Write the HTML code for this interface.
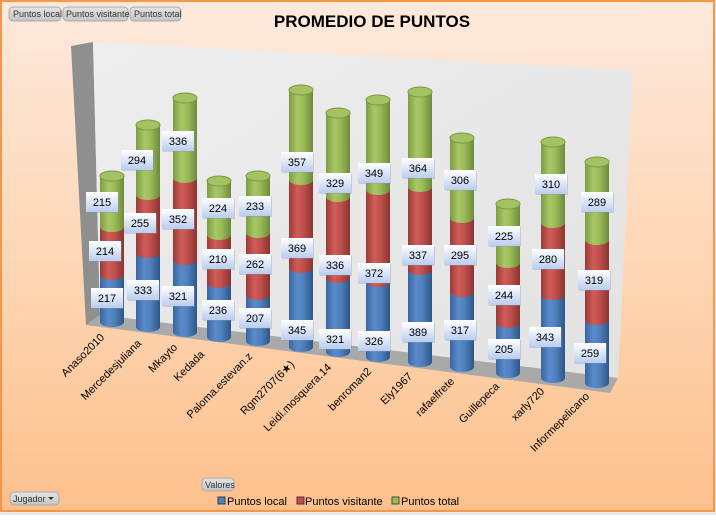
<!DOCTYPE html>
<html><head><meta charset="utf-8"><style>
body{margin:0;width:716px;height:515px;overflow:hidden;font-family:"Liberation Sans",sans-serif}
</style></head><body>
<svg width="716" height="515" xmlns="http://www.w3.org/2000/svg" font-family="Liberation Sans, sans-serif">
<defs>
<linearGradient id="bg" x1="0" y1="0" x2="0" y2="1"><stop offset="0" stop-color="#fde9dc"/><stop offset="0.5" stop-color="#fdd7b6"/><stop offset="1" stop-color="#fdc08c"/></linearGradient>
<linearGradient id="wall" x1="0" y1="0" x2="1" y2="1"><stop offset="0" stop-color="#eeeeee"/><stop offset="1" stop-color="#e2e2e2"/></linearGradient>
<linearGradient id="gb" x1="0" x2="1"><stop offset="0" stop-color="#3a65a0"/><stop offset="0.35" stop-color="#5a8bcb"/><stop offset="0.6" stop-color="#4f81bd"/><stop offset="1" stop-color="#2f5687"/></linearGradient>
<linearGradient id="gr" x1="0" x2="1"><stop offset="0" stop-color="#9c3a37"/><stop offset="0.35" stop-color="#d05c58"/><stop offset="0.6" stop-color="#c0504d"/><stop offset="1" stop-color="#8a3431"/></linearGradient>
<linearGradient id="gg" x1="0" x2="1"><stop offset="0" stop-color="#7d9c44"/><stop offset="0.35" stop-color="#a8c766"/><stop offset="0.6" stop-color="#9bbb59"/><stop offset="1" stop-color="#6d8a3a"/></linearGradient>
<linearGradient id="lb" x1="0" y1="0" x2="0" y2="1"><stop offset="0" stop-color="#ffffff"/><stop offset="1" stop-color="#b9cdef"/></linearGradient>
<linearGradient id="btn" x1="0" y1="0" x2="0" y2="1"><stop offset="0" stop-color="#e4e4e4"/><stop offset="1" stop-color="#c4c4c4"/></linearGradient>
</defs>
<rect x="0" y="0" width="716" height="515" fill="#e8e8e8"/>
<rect x="1" y="1" width="713" height="510" fill="url(#bg)" stroke="#f79646" stroke-width="2"/>
<!-- walls -->
<polygon points="71,46 93,42 100,315 86,325" fill="#8f8f8f"/>
<polygon points="93,42 633,70 618,378 100,315" fill="url(#wall)"/>
<polygon points="100,315 618,378 610,393 86,325" fill="#a9a9a9"/>
<text x="372" y="27" text-anchor="middle" font-size="17" font-weight="bold" fill="#000">PROMEDIO DE PUNTOS</text>
<g font-size="9" fill="#333">
<rect x="9" y="7" width="52" height="14" rx="4" fill="url(#btn)" stroke="#aaa"/><text x="13" y="17">Puntos local</text>
<rect x="63" y="7" width="65" height="14" rx="4" fill="url(#btn)" stroke="#aaa"/><text x="66" y="17">Puntos visitante</text>
<rect x="130" y="7" width="51" height="14" rx="4" fill="url(#btn)" stroke="#aaa"/><text x="134" y="17">Puntos total</text>
<rect x="202" y="478" width="32" height="13" rx="4" fill="url(#btn)" stroke="#aaa"/><text x="205" y="488">Valores</text>
<rect x="10" y="492" width="49" height="13" rx="4" fill="url(#btn)" stroke="#aaa"/><text x="13" y="502">Jugador</text>
<polygon points="48,497 54,497 51,500" fill="#333"/>
</g>
<g font-size="11" fill="#000">
<rect x="218" y="497" width="7" height="7" fill="#4f81bd" stroke="#345"/><text x="227" y="505">Puntos local</text>
<rect x="297" y="497" width="7" height="7" fill="#c0504d" stroke="#533"/><text x="305" y="505">Puntos visitante</text>
<rect x="392" y="497" width="7" height="7" fill="#9bbb59" stroke="#453"/><text x="401" y="505">Puntos total</text>
</g>
<g id="cyl"></g>
<g id="labs" font-size="11"></g>
<g id="xl" font-size="11" fill="#000"></g>
</svg>
<script>
var d=[
["Anaso2010",112,322,275,227,176,[217,107,298],[214,105,251],[215,102,202]],
["Mercedesjuliana",148,327,253,195,125,[333,143,290],[255,140,223],[294,137,160]],
["Mkayto",185,332,260,178,98,[321,178,296],[352,178,219],[336,178,141]],
["Kedada",219,337,283,235,181,[236,218,310],[210,218,259],[224,218,208]],
["Paloma.estevan.z",258,341,295,233,176,[207,255,318],[262,255,264],[233,255,206]],
["Rgm2707(6\u2605)",301,347,268,180,90,[345,297,330],[369,297,248],[357,297,162]],
["Leidi.mosquera.14",338,352,278,197,113,[321,335,339],[336,335,265],[329,335,183]],
["benroman2",378,357,282,190,100,[326,374,341],[372,374,273],[349,374,173]],
["Ely1967",420,362,270,187,92,[389,418,332],[337,418,255],[364,418,168]],
["rafaelfrete",462,367,292,218,138,[317,460,330],[295,460,255],[306,460,180]],
["Guillepeca",508,373,323,263,204,[205,504,349],[244,504,295],[225,504,236]],
["xarly720",553,378,295,223,142,[343,545,337],[280,548,259],[310,551,184]],
["Informepelicano",597,383,320,240,162,[259,590,353],[319,594,280],[289,597,202]]];
var ends=[[105,338],[142,344],[178,348],[205,355],[253,357],[295,365],[332,368],[372,372],[413,377],[455,382],[500,387],[545,392],[590,397]];
var NS="http://www.w3.org/2000/svg",c=document.getElementById("cyl"),L=document.getElementById("labs"),X=document.getElementById("xl");
function el(p,t,a){var e=document.createElementNS(NS,t);for(var k in a)e.setAttribute(k,a[k]);p.appendChild(e);return e;}
var w=12,ry=5;
d.forEach(function(r,i){var x=r[1];
 var segs=[[r[3],r[2],"url(#gb)"],[r[4],r[3],"url(#gr)"],[r[5],r[4],"url(#gg)"]];
 segs.forEach(function(s){el(c,"rect",{x:x-w,y:s[0],width:2*w,height:s[1]-s[0],fill:s[2]});el(c,"ellipse",{cx:x,cy:s[1],rx:w,ry:ry,fill:s[2]});});
 el(c,"ellipse",{cx:x,cy:r[5],rx:w,ry:ry,fill:"#a3c363",stroke:"#7a9640","stroke-width":1});
 [r[6],r[7],r[8]].forEach(function(l){
  el(L,"rect",{x:l[1]-15,y:l[2]-9,width:32,height:20,fill:"#8899aa",opacity:0.35});
  el(L,"rect",{x:l[1]-16,y:l[2]-10,width:32,height:20,fill:"url(#lb)"});
  var t=el(L,"text",{x:l[1],y:l[2]+4,"text-anchor":"middle"});t.textContent=l[0];});
 var e=ends[i];var t=el(X,"text",{x:e[0],y:e[1],"text-anchor":"end",transform:"rotate(-45 "+e[0]+" "+e[1]+")"});t.textContent=r[0];
});
</script>
</body></html>
